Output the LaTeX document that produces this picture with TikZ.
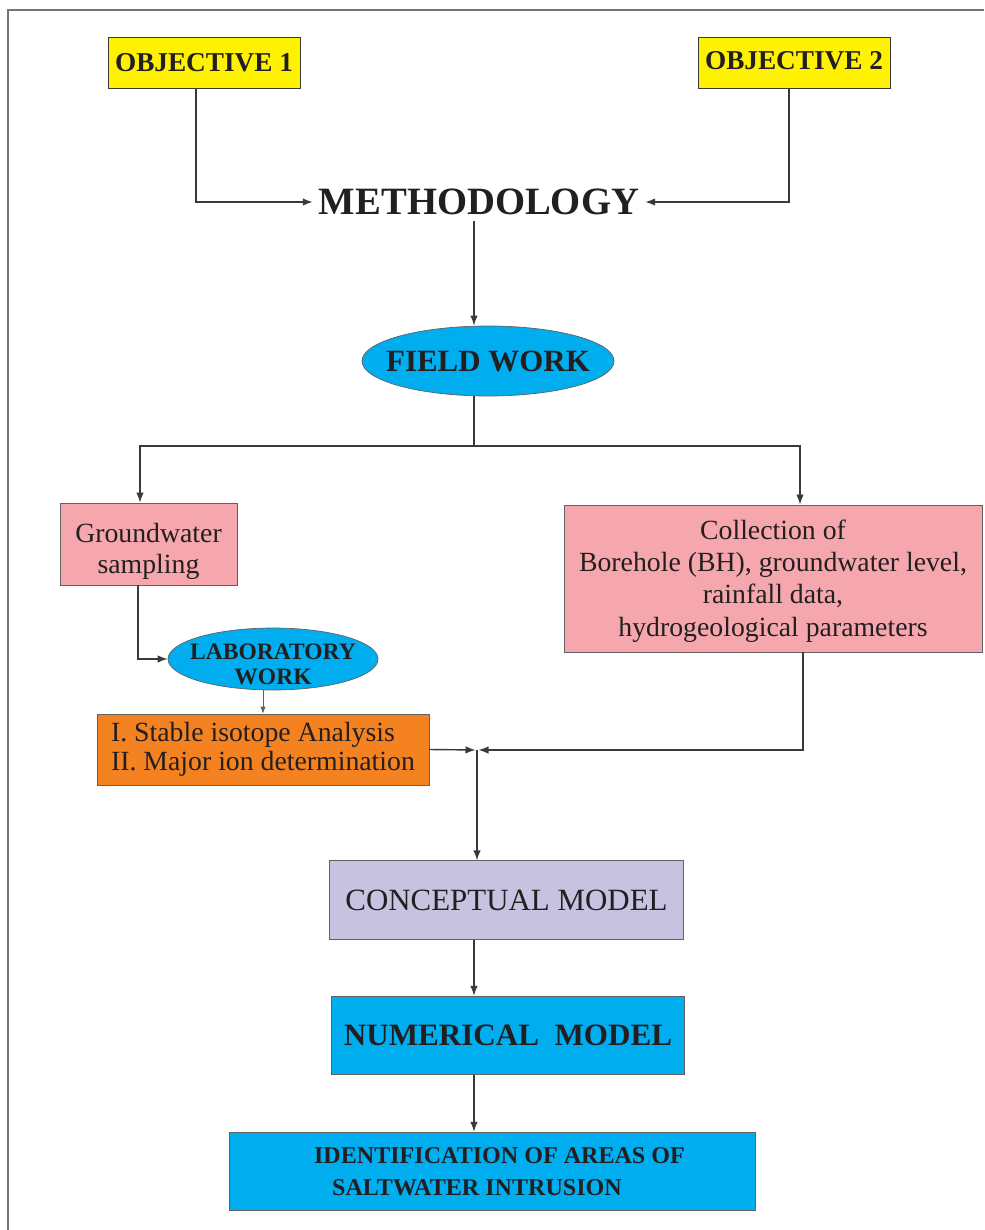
\documentclass[tikz,border=0pt]{standalone}
\usepackage{fontspec}
\setmainfont{Liberation Serif}
\usetikzlibrary{arrows.meta,positioning,calc,shapes.geometric}
\definecolor{objyel}{HTML}{FFF200}
\definecolor{pinkbox}{HTML}{F5A7AD}
\definecolor{cyanbox}{HTML}{00AEEF}
\definecolor{orangebox}{HTML}{F58220}
\definecolor{lavbox}{HTML}{C6C2E0}
\definecolor{txt}{HTML}{231F20}
\definecolor{edge}{HTML}{3A3A3A}
\newcommand{\topgap}[1]{\rule{0pt}{#1}}
\tikzset{
  obj/.style    ={draw=edge,fill=objyel,text=txt,inner sep=0pt,
                  minimum width=38.4mm,minimum height=10.2mm,
                  font=\fontsize{15.5pt}{18pt}\selectfont\bfseries},
  title/.style  ={text=txt,font=\fontsize{22pt}{24pt}\selectfont\bfseries},
  oval/.style   ={ellipse,draw=edge!80,fill=cyanbox,text=txt,align=center,
                  inner ysep=0pt,inner xsep=-3.5mm},
  pinkb/.style  ={draw=edge!80,fill=pinkbox,text=txt,align=center,inner sep=0pt,
                  font=\fontsize{15.8pt}{17.5pt}\selectfont},
  orb/.style    ={draw=edge!80,fill=orangebox,text=txt,align=left,inner sep=0pt,
                  minimum width=66.4mm,minimum height=14.2mm,
                  font=\fontsize{15.8pt}{16.5pt}\selectfont},
  model/.style  ={draw=edge!80,text=txt,align=center,inner sep=0pt,
                  minimum width=70.7mm,minimum height=15.7mm},
  ar/.style     ={draw=edge,line width=0.8pt,-{Latex[length=2mm,width=1.5mm]}},
  thinar/.style ={draw=edge!80,line width=0.5pt,-{Latex[length=1.4mm,width=1.1mm]}},
  ln/.style     ={draw=edge,line width=0.8pt},
}

\begin{document}
\begin{tikzpicture}[x=0.2mm,y=-0.2mm]
\useasboundingbox (0,0) rectangle (984,1230);
\draw[edge!70,line width=0.8pt] (8,1230) -- (8,10) -- (984,10);

\node[obj] (O1) at (204,62.5) {OBJECTIVE 1};
\node[obj] (O2) at (794,62.5) {\raisebox{1mm}{OBJECTIVE 2}};
\node[title] (MET) at (479,202) {METHODOLOGY};
\node[oval,minimum width=50.4mm,minimum height=14mm,
      font=\fontsize{17.6pt}{20pt}\selectfont\bfseries] (FW) at (488,361) {FIELD WORK};
\node[pinkb,minimum width=35.4mm,minimum height=16.4mm] (GW) at (148.5,544)
  {\topgap{19pt}Groundwater\\ sampling};
\node[pinkb,minimum width=83.6mm,minimum height=29.4mm,
      font=\fontsize{15.8pt}{18.4pt}\selectfont] (COL) at (773,578.5)
  {\topgap{14pt}Collection of\\ Borehole (BH), groundwater level,\\ rainfall data,\\ hydrogeological parameters};
\node[oval,minimum width=42mm,minimum height=12.4mm,inner xsep=-3mm,inner ysep=-1mm,
      font=\fontsize{13.4pt}{14.7pt}\selectfont\bfseries] (LAB) at (273,659)
  {\topgap{15pt}LABORATORY\\ WORK};
\node[orb] (ISO) at (263,749.5)
  {I. Stable isotope Analysis\\ II. Major ion determination};
\node[model,fill=lavbox,font=\fontsize{17.6pt}{20pt}\selectfont] (CM) at (506.5,900)
  {CONCEPTUAL MODEL};
\node[model,fill=cyanbox,font=\fontsize{17.7pt}{20pt}\selectfont\bfseries] (NM) at (508,1035.5)
  {NUMERICAL\ \ MODEL};
\node[model,fill=cyanbox,minimum width=105.2mm,align=left,
      font=\fontsize{13.7pt}{18pt}\selectfont\bfseries] (ID) at (492,1171.5)
  {\hspace*{3mm}IDENTIFICATION OF AREAS OF\\ \hspace*{6.6mm}SALTWATER INTRUSION};

\coordinate (spine) at (474,0);
\coordinate (fork) at (474,446);
\coordinate (join) at (477,750);

\draw[ar] ([xshift=-1.6mm]O1.south) |- (MET.west);
\draw[ar] ([xshift=-1mm]O2.south) |- (MET.east);
\draw[ar] (MET.south -| spine) -- (FW.north -| spine);
\draw[ln] (FW.south -| fork) -- (fork);
\draw[ar] (fork) -| ([xshift=-1.7mm]GW.north);
\draw[ar] (fork) -| ([xshift=5.4mm]COL.north);
\draw[ar] ([xshift=-2.1mm]GW.south) |- (LAB.west);
\draw[thinar] (LAB.south -| ISO.north) -- (ISO.north);
\draw[ar,shorten >=0.3mm] (ISO.east) -- (join);
\draw[ar,shorten >=0.3mm] ([xshift=6mm]COL.south) |- (join);
\draw[ar] (join) -- (join |- CM.north);
\draw[ar] (CM.south -| spine) -- (NM.north -| spine);
\draw[ar] (NM.south -| spine) -- (ID.north -| spine);
\end{tikzpicture}
\end{document}
